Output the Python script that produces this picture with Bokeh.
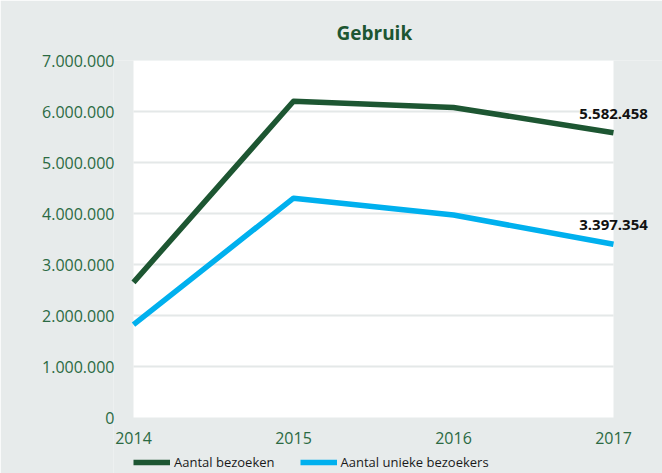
from bokeh.plotting import figure
from bokeh.models import (CustomJSTickFormatter, FixedTicker, BoxAnnotation,
                          Legend, LegendItem, Label, Range1d, Title)
from bokeh.core.properties import value
from bokeh.embed import file_html
from bokeh.resources import INLINE

years = [2014, 2015, 2016, 2017]
year_labels = ["2014", "2015", "2016", "2017"]
bezoeken = [2650000, 6200000, 6080000, 5582458]
unieke = [1820000, 4300000, 3970000, 3397354]
y_ticks = [0, 1000000, 2000000, 3000000, 4000000, 5000000, 6000000, 7000000]
grid_ticks = [1000000, 2000000, 3000000, 4000000, 5000000, 6000000]
series_names = ["Aantal bezoeken", "Aantal unieke bezoekers"]
title_text = "Gebruik"

GREEN = "#1d5632"
BLUE = "#00b0ee"
TICK = "#2b6a43"
BG = "#e7ebeb"
FONT = "Open Sans"

# frame spans from just left of the plot area to the right/bottom edges; the white
# plot area (2014..2017, 0..7M) is drawn inside it so that texts are not clipped
FRAME_LEFT = 113
X_START = 2014 - (133 - FRAME_LEFT) / 160
X_END = 2014 + (662 - 133) / 160
Y_START, Y_END = -56 / 51 * 1e6, 7000000

p = figure(width=662, height=473, output_backend="svg", toolbar_location=None,
           x_range=Range1d(X_START, X_END), y_range=Range1d(Y_START, Y_END),
           min_border_left=FRAME_LEFT, min_border_right=0, min_border_top=60,
           min_border_bottom=0)
p.background_fill_color = BG
p.border_fill_color = BG
p.outline_line_color = None

t = Title(text=title_text, align="left", text_font=FONT, text_font_size="19px",
          text_font_style="bold", text_color=GREEN, standoff=30, offset=223)
p.add_layout(t, "above")

# white plot area
p.add_layout(BoxAnnotation(left=years[0], right=years[-1], bottom=y_ticks[0],
                           top=y_ticks[-1], fill_color="white", fill_alpha=1,
                           line_color=None, level="underlay"))

# grid lines
p.segment(x0=[years[0]] * len(grid_ticks), x1=[years[-1]] * len(grid_ticks),
          y0=grid_ticks, y1=grid_ticks, line_color="#e4e8e8", line_width=2)

r1 = p.line(years, bezoeken, line_color=GREEN, line_width=5.5, line_join="round")
r2 = p.line(years, unieke, line_color=BLUE, line_width=5.5, line_join="round")

# x tick labels
p.text(x=years, y=[y_ticks[0]] * len(years), text=year_labels,
       text_align="center", text_baseline="middle", y_offset=20,
       text_font=value(FONT), text_font_size="16px", text_color=TICK)
p.xaxis.visible = False
p.xgrid.visible = False
p.ygrid.visible = False

# y axis
p.yaxis.ticker = FixedTicker(ticks=y_ticks)
p.yaxis.formatter = CustomJSTickFormatter(
    code="return Math.round(tick).toString().replace(/\\B(?=(\\d{3})+(?!\\d))/g, '.');")
ax = p.yaxis[0]
ax.axis_line_color = None
ax.major_tick_line_color = None
ax.minor_tick_line_color = None
ax.major_label_text_font = FONT
ax.major_label_text_font_size = "16px"
ax.major_label_text_color = TICK
ax.major_label_standoff = -7

# end labels
def fmt(v):
    return f"{v:,}".replace(",", ".")

for v in (bezoeken[-1], unieke[-1]):
    p.add_layout(Label(x=years[-1], y=v, text=fmt(v), text_align="center",
                       text_baseline="bottom", y_offset=14, text_font=FONT,
                       text_font_size="15px", text_font_style="bold",
                       text_color="#111111"))

legend = Legend(items=[LegendItem(label=series_names[0], renderers=[r1]),
                       LegendItem(label=series_names[1], renderers=[r2])],
                orientation="horizontal", location=(133 - FRAME_LEFT, 2),
                background_fill_alpha=0, border_line_color=None,
                label_text_font=FONT, label_text_font_size="13px",
                label_text_color="#1a1a1a", glyph_width=37, glyph_height=10,
                spacing=25, label_standoff=4, padding=0, margin=0)
p.add_layout(legend, "center")

open("out.html", "w").write(file_html(p, INLINE))
